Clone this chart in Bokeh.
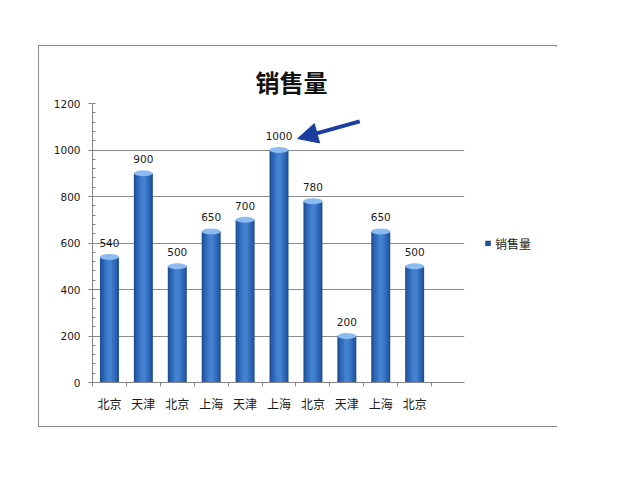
from bokeh.plotting import figure
from bokeh.models import (Range1d, FixedTicker, SingleIntervalTicker, Legend, LegendItem,
                          Arrow, NormalHead, ColumnDataSource)
from bokeh.core.properties import value
from bokeh.embed import file_html
from bokeh.resources import INLINE

# ---- data ----
categories = ["北京", "天津", "北京", "上海", "天津", "上海", "北京", "天津", "上海", "北京"]
sales = [540, 900, 500, 650, 700, 1000, 780, 200, 650, 500]
y_ticks = [0, 200, 400, 600, 800, 1000, 1200]
title_text = "销售量"
series_name = "销售量"

n = len(categories)
xs = [i + 0.5 for i in range(n)]
src = ColumnDataSource(dict(x=xs, top=sales, label=[str(v) for v in sales]))

p = figure(width=517, height=380, frame_width=372, frame_height=279,
           output_backend="svg", toolbar_location=None,
           x_range=Range1d(0, n * 1.097), y_range=Range1d(0, 1200),
           min_border_left=53, min_border_right=0, min_border_top=57, min_border_bottom=44)
p.margin = (45, 0, 0, 38)
p.styles = {"border": "1px solid #8c8c8c", "max-width": "519px"}
p.outline_line_color = None
p.background_fill_color = "white"
p.border_fill_color = "white"

# title
p.title.text = title_text
p.title.align = "left"
p.title.offset = 163
p.title.standoff = 10
p.title.text_font = "Noto Sans CJK SC"
p.title.text_font_size = "24px"
p.title.text_font_style = "bold"
p.title.text_color = "#111111"

# bars: layered to imitate a cylinder gradient
layers = [(0.56, "#1f4f96"), (0.46, "#2a61ae"), (0.32, "#3571c1"), (0.16, "#4381cf")]
main_bar = None
for w, c in layers:
    r = p.vbar(x="x", top="top", bottom=0, width=w, source=src, fill_color=c, line_color=None)
    if main_bar is None:
        main_bar = r
p.ellipse(x="x", y="top", width=0.56, height=6, height_units="screen", source=src,
          fill_color="#8bbbf0", line_color=None)

# data labels
p.text(x="x", y="top", text="label", source=src, text_align="center", text_baseline="bottom",
       y_offset=-10, text_font=value("DejaVu Sans"), text_font_size=value("10.5px"),
       text_color="#1a1a1a")

# arrow annotation
p.add_layout(Arrow(end=NormalHead(size=20, fill_color="#1b3d9e", line_color="#1b3d9e"),
                   x_start=7.88, y_start=1123, x_end=6.05, y_end=1049,
                   line_width=4, line_color="#1b3d9e"))

# y axis
p.yaxis.ticker = SingleIntervalTicker(interval=200, num_minor_ticks=5)
p.yaxis.axis_line_color = "#868686"
p.yaxis.major_tick_line_color = "#868686"
p.yaxis.minor_tick_line_color = "#868686"
p.yaxis.major_tick_out = 4
p.yaxis.major_tick_in = 0
p.yaxis.minor_tick_in = 3
p.yaxis.minor_tick_out = 0
p.yaxis.major_label_standoff = 8
p.yaxis.major_label_text_font = "DejaVu Sans"
p.yaxis.major_label_text_font_size = "10.5px"
p.yaxis.major_label_text_color = "#1a1a1a"

# x axis
p.xaxis.ticker = FixedTicker(ticks=xs, minor_ticks=list(range(n + 1)))
p.xaxis.major_label_overrides = {x: c for x, c in zip(xs, categories)}
p.xaxis.axis_line_color = "#868686"
p.xaxis.major_tick_line_color = None
p.xaxis.major_tick_out = 0
p.xaxis.major_tick_in = 0
p.xaxis.minor_tick_line_color = "#868686"
p.xaxis.minor_tick_out = 4
p.xaxis.minor_tick_in = 0
p.xaxis.major_label_standoff = 8
p.xaxis.major_label_text_font = "Noto Sans CJK SC"
p.xaxis.major_label_text_font_size = "12px"
p.xaxis.major_label_text_color = "#1a1a1a"

# grid
p.xgrid.visible = False
p.ygrid.ticker = SingleIntervalTicker(interval=200)
p.ygrid.grid_line_color = "#8c8c8c"
p.ygrid.grid_line_width = 1

# legend
legend = Legend(items=[LegendItem(label=series_name, renderers=[main_bar])],
                location="center_left", border_line_color=None, background_fill_alpha=0,
                glyph_width=7, glyph_height=7, label_standoff=4, padding=0, margin=20,
                label_text_font="Noto Sans CJK SC", label_text_font_size="12px",
                label_text_color="#1a1a1a")
p.add_layout(legend, "right")

open("out.html", "w").write(file_html(p, INLINE))
